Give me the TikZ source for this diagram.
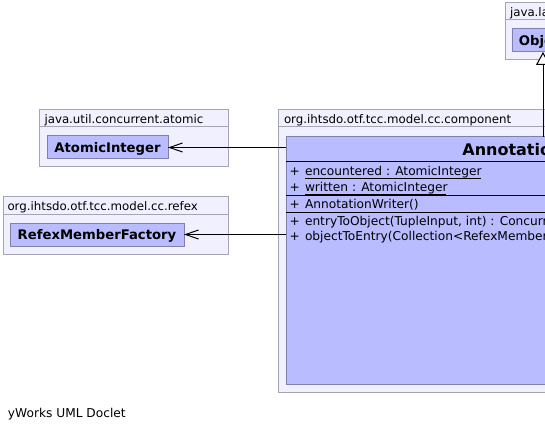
\documentclass[tikz,border=0pt]{standalone}
\usepackage{fontspec}
\setmainfont{DejaVu Sans}
\usetikzlibrary{arrows.meta}
\definecolor{pkgfill}{RGB}{240,240,255}
\definecolor{pkgline}{RGB}{164,164,180}
\definecolor{clsfill}{RGB}{185,188,255}
\definecolor{clsline}{RGB}{128,128,168}
\begin{document}
\begin{tikzpicture}[x=1pt,y=-1pt,
  every node/.style={inner sep=0pt, outer sep=0pt},
  pkg/.style={draw=pkgline, fill=pkgfill, line width=1pt, rectangle, anchor=north west},
  pkgsep/.style={draw=pkgline, line width=1pt},
  cls/.style={draw=clsline, fill=clsfill, line width=1pt, rectangle, anchor=north west,
    font=\fontsize{13.2}{15}\selectfont\bfseries, text depth=0pt},
  clssep/.style={draw=black, line width=1pt},
  pkgtxt/.style={anchor=base west, font=\fontsize{11.8}{14}\selectfont},
  mem/.style={anchor=base west, font=\fontsize{12.2}{14}\selectfont},
  dep/.style={draw=black, line width=1pt, -{Straight Barb[length=13pt,width=9pt]}},
  inh/.style={draw=black, line width=1pt, -{Triangle[open, length=13pt, width=14pt, fill=white]}}
]
\clip (0,0) rectangle (545,430);
\fill[white] (0,0) rectangle (545,430);

% packages
\node[pkg, minimum width=80, minimum height=57] (pLang) at (505,3) {};
\draw[pkgsep] (pLang.north west) ++(0,17) -- ++(80,0);
\node[pkgtxt] (tLang) at (510,16.5) {java.lang};

\node[pkg, minimum width=189, minimum height=57] (pAtomic) at (39,110) {};
\draw[pkgsep] (pAtomic.north west) ++(0,17) -- ++(189,0);
\node[pkgtxt] (tAtomic) at (44.5,123.5) {java.util.concurrent.atomic};

\node[pkg, minimum width=225, minimum height=57] (pRefex) at (3,197) {};
\draw[pkgsep] (pRefex.north west) ++(0,17.5) -- ++(225,0);
\node[pkgtxt] (tRefex) at (7.5,210.7) {org.ihtsdo.otf.tcc.model.cc.refex};

\node[pkg, minimum width=530, minimum height=282] (pComp) at (278,110) {};
\draw[pkgsep] (pComp.north west) ++(0,17) -- ++(530,0);
\node[pkgtxt] (tComp) at (284,123.5) {org.ihtsdo.otf.tcc.model.cc.component};

% classes
\node[cls, minimum width=62, minimum height=23] (obj) at (512,29) {Object};
\node[cls, minimum width=121, minimum height=23] (atomic) at (47,136) {AtomicInteger};
\node[cls, minimum width=174, minimum height=23] (refex) at (10,223) {RefexMemberFactory};
\node[cls, minimum width=510, minimum height=247] (annot) at (286,137) {};

\node[anchor=base, font=\fontsize{16}{18}\selectfont\bfseries] (title) at (541,155.5) {AnnotationWriter};
\draw[clssep] (annot.west |- 0,162) -- (annot.east |- 0,162);
\draw[clssep] (annot.west |- 0,196) -- (annot.east |- 0,196);
\draw[clssep] (annot.west |- 0,212) -- (annot.east |- 0,212);

\node[mem] (p1) at (289.5,175.5) {+};
\node[mem] (m1) at (305,175.5) {encountered : AtomicInteger};
\draw[line width=1pt] (m1.base west) ++(0,3) -- (481,178.5);
\node[mem] (p2) at (289.5,191.5) {+};
\node[mem] (m2) at (305,191.5) {written : AtomicInteger};
\draw[line width=1pt] (m2.base west) ++(0,3) -- (446,194.5);
\node[mem] (p3) at (289.5,208) {+};
\node[mem] (m3) at (305,208) {AnnotationWriter()};
\node[mem] (p4) at (289.5,225.5) {+};
\node[mem] (m4) at (305,225.5) {entryToObject(TupleInput, int) : ConcurrentSkipListSet};
\node[mem] (p5) at (289.5,240.5) {+};
\node[mem] (m5) at (305,240.5) {objectToEntry(Collection<RefexMemberVersionBI>, TupleOutput) : void};

% connectors
\draw[dep] (atomic.east -| annot.west) -- (atomic.east);
\draw[dep] (refex.east -| annot.west) -- (refex.east);
\draw[inh] (obj.south |- annot.north) -- (obj.south);

\node[mem] (footer) at (8,417) {yWorks UML Doclet};
\end{tikzpicture}
\end{document}
